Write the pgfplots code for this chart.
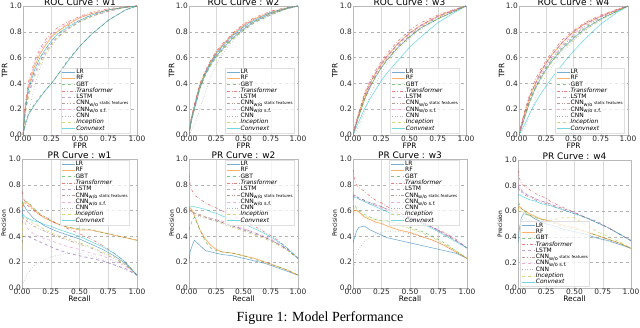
\documentclass[border=0pt]{standalone}
\usepackage{fontspec}
\setmainfont{DejaVu Sans}
\newfontfamily\capfont{Liberation Serif}
\usepackage{pgfplots}
\usepackage{pgfplotstable}
\pgfplotsset{compat=1.18}

\definecolor{cLR}{HTML}{1F77B4}
\definecolor{cRF}{HTML}{FF7F0E}
\definecolor{cGBT}{HTML}{2CA02C}
\definecolor{cTF}{HTML}{D62728}
\definecolor{cLSTM}{HTML}{9467BD}
\definecolor{cCNNa}{HTML}{8C564B}
\definecolor{cCNNb}{HTML}{E377C2}
\definecolor{cCNN}{HTML}{7F7F7F}
\definecolor{cInc}{HTML}{BCBD22}
\definecolor{cConv}{HTML}{17BECF}

% ROC curves, columns: FPR, then one TPR column per model
\pgfplotstableread{
x    LR   RF   GBT  TF   LSTM CNNa CNNb CNN  Inc  Conv
0    0    0    0    0    0    0    0    0    0    0
0.02 .08  .22  .10  .25  .18  .20  .24  .06  .16  .20
0.05 .16  .38  .17  .42  .32  .35  .40  .18  .30  .36
0.10 .23  .53  .24  .57  .47  .50  .55  .38  .45  .50
0.15 .29  .63  .30  .67  .57  .60  .65  .52  .55  .60
0.20 .35  .70  .35  .74  .65  .67  .72  .62  .63  .67
0.25 .40  .76  .40  .79  .71  .73  .77  .69  .70  .73
0.30 .46  .80  .46  .83  .76  .78  .81  .75  .75  .78
0.40 .58  .86  .59  .88  .83  .85  .87  .83  .82  .84
0.50 .69  .91  .69  .92  .88  .89  .91  .88  .88  .89
0.60 .78  .94  .78  .95  .92  .93  .94  .92  .92  .93
0.75 .89  .97  .89  .98  .96  .97  .97  .96  .96  .97
0.90 .97  .99  .97  .995 .99  .99  .99  .99  .99  .99
1    1    1    1    1    1    1    1    1    1    1
}\rocA
\pgfplotstableread{
x    LR   RF   GBT  TF   LSTM CNNa CNNb CNN  Inc  Conv
0    0    0    0    0    0    0    0    0    0    0
0.02 .10  .12  .10  .13  .11  .12  .12  .03  .11  .12
0.05 .20  .23  .20  .24  .21  .22  .23  .08  .21  .22
0.10 .36  .39  .36  .40  .37  .38  .39  .20  .37  .38
0.15 .47  .49  .46  .50  .48  .48  .49  .33  .47  .48
0.20 .55  .57  .54  .58  .56  .56  .57  .45  .55  .56
0.25 .61  .64  .60  .65  .62  .63  .63  .55  .61  .63
0.30 .66  .69  .65  .70  .67  .68  .69  .62  .66  .68
0.40 .75  .78  .74  .79  .76  .77  .78  .73  .75  .77
0.50 .82  .85  .81  .86  .83  .84  .85  .81  .82  .84
0.60 .88  .90  .87  .91  .88  .89  .90  .87  .88  .89
0.75 .94  .95  .93  .96  .94  .95  .95  .93  .94  .95
0.90 .98  .985 .98  .99  .98  .985 .985 .98  .98  .985
1    1    1    1    1    1    1    1    1    1    1
}\rocB
\pgfplotstableread{
x    LR   RF   GBT  TF   LSTM CNNa CNNb CNN  Inc  Conv
0    0    0    0    0    0    0    0    0    0    0
0.02 .06  .07  .06  .08  .07  .06  .07  .02  .06  .04
0.05 .14  .16  .14  .17  .16  .15  .16  .06  .14  .10
0.10 .27  .30  .27  .32  .30  .28  .29  .18  .27  .20
0.15 .37  .40  .37  .42  .40  .38  .39  .30  .37  .28
0.20 .45  .48  .45  .50  .48  .46  .47  .40  .45  .35
0.25 .52  .55  .52  .57  .55  .53  .54  .48  .52  .42
0.30 .58  .61  .58  .63  .61  .59  .60  .55  .58  .48
0.40 .68  .71  .68  .73  .71  .69  .70  .66  .68  .58
0.50 .76  .79  .76  .81  .79  .77  .78  .75  .76  .68
0.60 .83  .85  .83  .87  .85  .84  .85  .82  .83  .76
0.75 .90  .92  .90  .93  .92  .91  .92  .90  .90  .87
0.90 .96  .97  .96  .975 .97  .965 .97  .96  .96  .95
1    1    1    1    1    1    1    1    1    1    1
}\rocC
\pgfplotstableread{
x    LR   RF   GBT  TF   LSTM CNNa CNNb CNN  Inc  Conv
0    0    0    0    0    0    0    0    0    0    0
0.02 .05  .07  .06  .08  .07  .06  .07  .02  .05  .03
0.05 .13  .16  .14  .18  .16  .15  .16  .05  .13  .08
0.10 .26  .30  .27  .32  .30  .28  .29  .16  .25  .17
0.15 .36  .40  .37  .43  .40  .38  .39  .28  .35  .25
0.20 .44  .49  .45  .51  .49  .46  .47  .38  .43  .32
0.25 .51  .56  .52  .58  .56  .53  .54  .46  .50  .38
0.30 .57  .62  .58  .64  .62  .59  .60  .53  .56  .44
0.40 .67  .72  .68  .74  .72  .69  .70  .64  .66  .55
0.50 .75  .80  .76  .81  .80  .77  .78  .73  .74  .65
0.60 .82  .86  .83  .87  .86  .84  .85  .81  .81  .74
0.75 .90  .92  .90  .93  .92  .91  .92  .89  .89  .86
0.90 .96  .97  .96  .975 .97  .965 .97  .96  .96  .95
1    1    1    1    1    1    1    1    1    1    1
}\rocD

% PR curves, columns: recall, then one precision column per model
\pgfplotstableread{
x    LR   RF   GBT  TF   LSTM CNNa CNNb CNN  Inc  Conv
0    .55  .62  .65  .75  .35  .50  .60  .00  .30  .55
0.01 .65  .66  .68  .70  .40  .55  .55  .04  .55  .57
0.03 .62  .66  .67  .66  .40  .53  .50  .08  .55  .55
0.05 .59  .66  .67  .64  .40  .51  .46  .11  .53  .54
0.10 .54  .61  .62  .60  .38  .48  .42  .17  .50  .52
0.15 .51  .57  .58  .57  .36  .46  .40  .20  .48  .51
0.20 .48  .54  .55  .55  .34  .44  .38  .22  .45  .49
0.25 .46  .52  .52  .53  .32  .42  .37  .24  .43  .48
0.30 .44  .50  .50  .50  .30  .40  .35  .25  .41  .46
0.40 .41  .47  .47  .46  .27  .37  .32  .27  .38  .43
0.50 .38  .45  .46  .42  .25  .34  .30  .27  .35  .40
0.60 .34  .45  .45  .38  .23  .31  .27  .25  .32  .36
0.70 .30  .43  .43  .33  .21  .27  .25  .22  .28  .32
0.80 .25  .41  .41  .27  .18  .23  .21  .18  .24  .27
0.90 .19  .39  .39  .20  .15  .18  .17  .14  .18  .20
1    .10  .37  .37  .10  .10  .10  .10  .10  .10  .10
}\prA
\pgfplotstableread{
x    LR   RF   GBT  TF   LSTM CNNa CNNb CNN  Inc  Conv
0    .20  .60  .45  .88  .58  .60  .62  .55  .58  .62
0.01 .28  .62  .48  .80  .60  .60  .60  .58  .60  .63
0.03 .33  .60  .52  .75  .59  .59  .59  .58  .59  .63
0.05 .37  .56  .55  .72  .58  .58  .58  .57  .58  .63
0.10 .33  .45  .45  .69  .56  .57  .56  .55  .56  .62
0.15 .29  .38  .36  .66  .55  .55  .55  .54  .55  .61
0.20 .28  .33  .31  .64  .53  .54  .54  .53  .53  .59
0.25 .27  .30  .29  .62  .52  .53  .53  .52  .52  .58
0.30 .26  .28  .28  .60  .51  .51  .52  .50  .50  .56
0.40 .25  .27  .27  .56  .48  .48  .49  .47  .47  .53
0.50 .23  .25  .25  .52  .45  .46  .46  .45  .44  .50
0.60 .21  .23  .22  .48  .42  .43  .43  .42  .41  .46
0.70 .19  .20  .20  .43  .39  .39  .40  .39  .38  .42
0.80 .16  .17  .17  .38  .35  .35  .36  .35  .34  .37
0.90 .13  .14  .14  .31  .30  .30  .30  .30  .29  .31
1    .10  .10  .10  .23  .23  .23  .23  .23  .23  .23
}\prB
\pgfplotstableread{
x    LR   RF   GBT  TF   LSTM CNNa CNNb CNN  Inc  Conv
0    .35  .55  .62  .92  .70  .72  .70  .10  .60  .68
0.01 .38  .60  .65  .86  .72  .72  .71  .18  .62  .70
0.03 .44  .60  .62  .80  .71  .71  .70  .26  .61  .70
0.05 .47  .59  .60  .78  .70  .70  .69  .30  .59  .69
0.10 .48  .55  .57  .75  .68  .68  .67  .36  .56  .67
0.15 .45  .53  .55  .71  .66  .66  .65  .39  .54  .65
0.20 .43  .51  .53  .68  .65  .64  .64  .42  .53  .63
0.25 .41  .50  .52  .66  .63  .63  .62  .43  .52  .61
0.30 .39  .48  .52  .63  .61  .61  .60  .44  .52  .59
0.40 .37  .45  .50  .59  .58  .58  .57  .44  .49  .56
0.50 .35  .43  .47  .55  .55  .55  .54  .42  .46  .53
0.60 .33  .40  .44  .51  .51  .51  .51  .40  .43  .50
0.70 .31  .37  .40  .47  .47  .47  .47  .37  .39  .46
0.80 .29  .33  .35  .43  .42  .42  .42  .33  .34  .41
0.90 .27  .28  .29  .38  .37  .37  .37  .28  .29  .36
1    .23  .23  .23  .31  .31  .31  .31  .23  .23  .31
}\prC
\pgfplotstableread{
x    LR   RF   GBT  TF   LSTM CNNa CNNb CNN  Inc  Conv
0    .35  .62  .65  .92  .80  .78  .82  .40  .60  .72
0.01 .45  .64  .66  .86  .78  .77  .80  .48  .62  .73
0.03 .55  .62  .62  .82  .76  .75  .77  .52  .60  .72
0.05 .58  .61  .60  .80  .74  .73  .75  .55  .59  .71
0.10 .57  .58  .57  .77  .72  .71  .72  .53  .56  .69
0.15 .54  .56  .55  .74  .70  .69  .70  .51  .55  .68
0.20 .52  .54  .54  .72  .68  .67  .68  .49  .54  .66
0.25 .50  .53  .52  .70  .67  .66  .67  .48  .53  .65
0.30 .49  .52  .51  .67  .65  .64  .65  .47  .53  .64
0.40 .46  .49  .48  .63  .62  .61  .62  .45  .55  .61
0.50 .44  .47  .46  .59  .59  .58  .59  .43  .55  .58
0.60 .42  .44  .44  .55  .55  .55  .55  .41  .49  .55
0.70 .39  .41  .41  .51  .52  .51  .51  .39  .44  .51
0.80 .37  .38  .38  .47  .47  .47  .47  .36  .40  .47
0.90 .34  .35  .35  .42  .42  .42  .42  .34  .36  .42
1    .31  .31  .31  .37  .37  .37  .37  .31  .31  .37
}\prD

\pgfplotsset{
  mLR/.style={cLR},
  mRF/.style={cRF, line width=0.8pt},
  mGBT/.style={cGBT, dashed},
  mTF/.style={cTF, dash dot},
  mLSTM/.style={cLSTM, dashed, line width=0.9pt},
  mCNNa/.style={cCNNa, dash dot dot},
  mCNNb/.style={cCNNb, dashed},
  mCNN/.style={cCNN, dotted},
  mInc/.style={cInc, dashed},
  mConv/.style={cConv},
  panel/.style={
    scale only axis,
    xmin=0, xmax=1, ymin=0, ymax=1,
    xtick={0,0.25,0.5,0.75,1},
    ytick={0,0.2,0.4,0.6,0.8,1},
    xticklabel style={/pgf/number format/.cd,fixed,fixed zerofill,precision=2},
    yticklabel style={/pgf/number format/.cd,fixed,fixed zerofill,precision=1},
    /pgf/number format/assume math mode=true,
    tick label style={font=\fontsize{7.5}{8}\selectfont, text=black!85, inner sep=1pt},
    major tick length=0pt,
    axis line style={draw=gray!55, line width=0.6pt},
    xmajorgrids, ymajorgrids,
    x grid style={gray!30, line width=0.4pt},
    y grid style={gray!60, dashed, line width=0.4pt},
    every axis title shift=0pt,
    title style={font=\fontsize{9}{9}\selectfont, at={(0.5,1)}, anchor=south,
      inner sep=0.5pt},
    label style={font=\fontsize{7.5}{8}\selectfont},
    ylabel style={at={(axis description cs:-0.16,0.5)}, anchor=center},
    xlabel style={at={(axis description cs:0.5,-0.085)}, anchor=center},
    every axis plot/.append style={no marks, line width=0.6pt, opacity=0.6},
    legend cell align=left,
    legend image code/.code={\draw[##1] (0pt,0pt) -- (13pt,0pt);},
    legend style={font=\fontsize{6}{6}\selectfont, draw=gray!25, fill=white,
      fill opacity=0.75, text opacity=1, inner sep=1.2pt, row sep=0pt,
      nodes={inner sep=0.4pt, text height=4.3pt, text depth=1.2pt}},
  },
  roc/.style={panel, xlabel={FPR}, ylabel={TPR},
    legend style={at={(0.33,0.015)}, anchor=south west}},
  pr/.style={panel, xlabel={Recall}, ylabel={Precision},
    ylabel style={font=\fontsize{6}{6}\selectfont}},
}

\newcommand\drawall[1]{%
  \pgfplotsinvokeforeach{LR,RF,GBT,TF,LSTM,CNNa,CNNb,CNN,Inc,Conv}{%
    \addplot[m##1] table[x=x,y=##1]{#1};}%
  \legend{LR,RF,GBT,\textit{Transformer},LSTM,CNN\textsubscript{w/o}\,{\fontsize{4}{4}\selectfont static features},CNN\textsubscript{w/o s.f.},CNN,\textit{Inception},\textit{Convnext}}}

\begin{document}
\begin{tikzpicture}
\useasboundingbox (0bp,0bp) rectangle (640bp,328bp);

\begin{axis}[roc, at={(23bp,193bp)}, anchor=south west, width=114bp, height=129bp,
  title={ROC Curve : w1}]
\drawall{\rocA}
\end{axis}
\begin{axis}[roc, at={(189bp,193bp)}, anchor=south west, width=109bp, height=129bp,
  title={ROC Curve : w2}]
\drawall{\rocB}
\end{axis}
\begin{axis}[roc, at={(353bp,193bp)}, anchor=south west, width=113bp, height=129bp,
  title={ROC Curve : w3}]
\drawall{\rocC}
\end{axis}
\begin{axis}[roc, at={(519bp,193bp)}, anchor=south west, width=109bp, height=129bp,
  title={ROC Curve : w4}]
\drawall{\rocD}
\end{axis}

\begin{axis}[pr, at={(22bp,40bp)}, anchor=south west, width=115bp, height=129bp,
  title={PR Curve : w1},
  legend style={at={(0.33,0.995)}, anchor=north west}]
\drawall{\prA}
\end{axis}
\begin{axis}[pr, at={(189bp,40bp)}, anchor=south west, width=109bp, height=129bp,
  title={PR Curve : w2},
  legend style={at={(0.33,0.995)}, anchor=north west}]
\drawall{\prB}
\end{axis}
\begin{axis}[pr, at={(353bp,40bp)}, anchor=south west, width=114bp, height=129bp,
  title={PR Curve : w3},
  legend style={at={(0.32,0.995)}, anchor=north west}]
\drawall{\prC}
\end{axis}
\begin{axis}[pr, at={(518bp,40bp)}, anchor=south west, width=113bp, height=128bp,
  title={PR Curve : w4},
  legend style={at={(0.02,0.01)}, anchor=south west}]
\drawall{\prD}
\end{axis}

\node[font=\capfont\fontsize{14}{15}\selectfont] at (320bp,10bp) {Figure 1: Model Performance};
\end{tikzpicture}
\end{document}
